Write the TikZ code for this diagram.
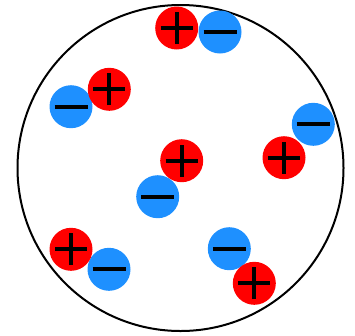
\documentclass[tikz,border=0pt]{standalone}
\usepackage{xcolor}
\usepackage{tikz}
\definecolor{ionblue}{RGB}{30,144,255}
\tikzset{
    poscharge/.style={circle, fill=red, minimum size=43pt, inner sep=0pt,
        path picture={
            \draw[line width=3.8pt] ([xshift=-16pt]path picture bounding box.center) -- ([xshift=16pt]path picture bounding box.center);
            \draw[line width=3.8pt] ([yshift=-16pt]path picture bounding box.center) -- ([yshift=16pt]path picture bounding box.center);
        }},
    negcharge/.style={circle, fill=ionblue, minimum size=43pt, inner sep=0pt,
        path picture={
            \draw[line width=3.8pt] ([xshift=-16.5pt]path picture bounding box.center) -- ([xshift=16.5pt]path picture bounding box.center);
        }}
}

\begin{document}
\begin{tikzpicture}[x=1pt, y=-1pt]
\useasboundingbox (0,0) rectangle (355,335);

% Container
\node[draw, circle, line width=2pt, minimum size=326pt, inner sep=0pt] (vessel) at (180.5,168) {};

% Ion pairs
\foreach \i/\nx/\ny/\px/\py in {1/220/32/176.7/28, 2/71/106.7/109.3/89.3, 3/157.7/196.7/181.7/160.7,
                                4/313.3/124.3/284/157.7, 5/109/269.3/71/249.3, 6/229.3/248.7/254.3/283.3} {
    \node[negcharge] (n\i) at (\nx,\ny) {};
    \node[poscharge] (p\i) at (\px,\py) {};
}
\end{tikzpicture}
\end{document}
